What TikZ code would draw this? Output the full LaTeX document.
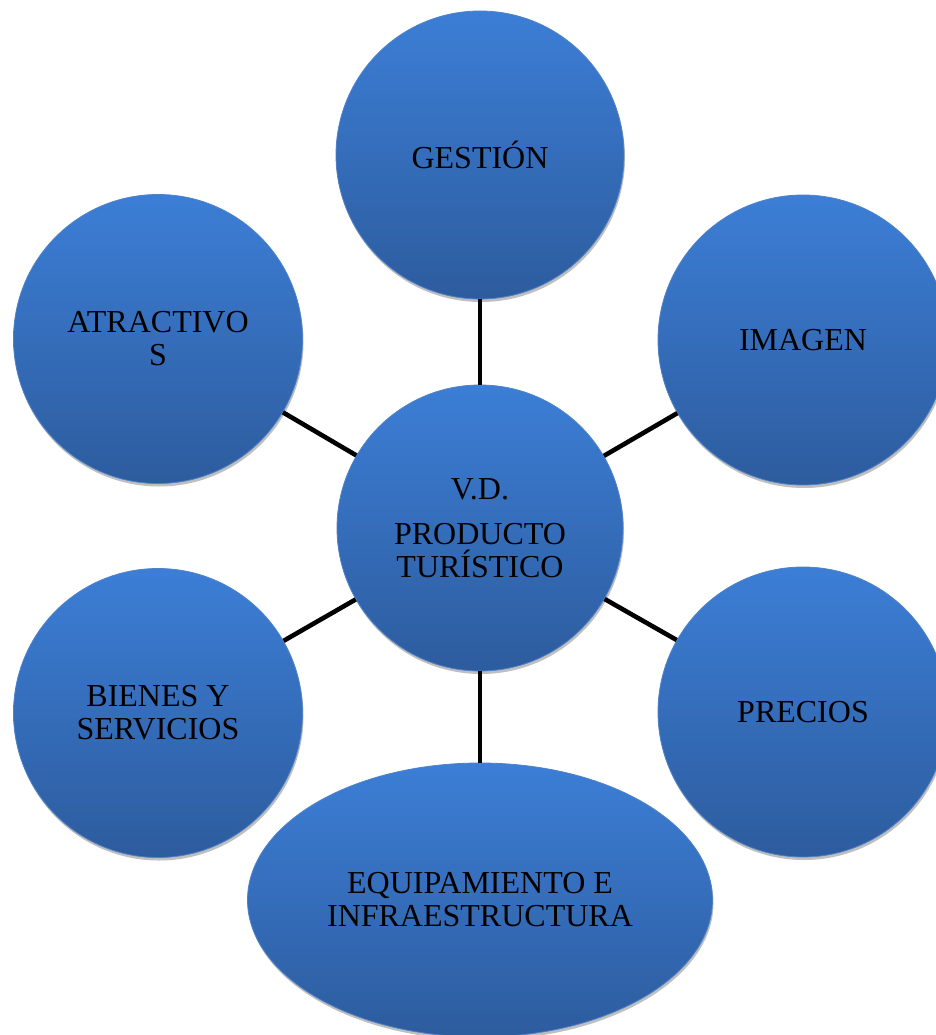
\documentclass[tikz,border=0pt]{standalone}
\usepackage{fontspec}
\setmainfont{Liberation Serif}
\usetikzlibrary{shapes.geometric,shadows}
\definecolor{topblue}{RGB}{60,126,214}
\definecolor{botblue}{RGB}{45,92,158}
\definecolor{edgeblue}{RGB}{80,130,200}
\tikzset{
  bubble/.style={circle, top color=topblue, bottom color=botblue, draw=edgeblue, line width=0.8pt,
    drop shadow={shadow xshift=1pt, shadow yshift=-3pt, opacity=0.25, fill=black},
    align=center, text=black, font=\fontsize{32}{33}\selectfont, inner sep=0pt},
  oval/.style={bubble, ellipse},
  link/.style={draw=black, line width=4.6pt}
}
\begin{document}
\begin{tikzpicture}[x=1pt,y=-1pt]
\useasboundingbox (0,0) rectangle (936,1035);
\node[bubble, minimum size=288pt] (gest) at (480,155) {GESTIÓN};
\node[bubble, minimum size=286pt] (vd) at (480,528) {V.D.\\[12pt]PRODUCTO\\TURÍSTICO};
\node[bubble, minimum size=290pt] (img) at (803,340) {IMAGEN};
\node[bubble, minimum size=289pt] (atr) at (158,339) {ATRACTIVO\\S};
\node[bubble, minimum size=289pt] (bie) at (158,713) {BIENES Y\\SERVICIOS};
\node[bubble, minimum size=290pt] (pre) at (803,712) {PRECIOS};
\node[oval, minimum width=465pt, minimum height=274pt] (equ) at (480,900) {EQUIPAMIENTO E\\INFRAESTRUCTURA};
\draw[link] (vd) -- (gest);
\draw[link] (vd) -- (img);
\draw[link] (vd) -- (atr);
\draw[link] (vd) -- (bie);
\draw[link] (vd) -- (pre);
\draw[link] (vd) -- (equ);
\end{tikzpicture}
\end{document}
